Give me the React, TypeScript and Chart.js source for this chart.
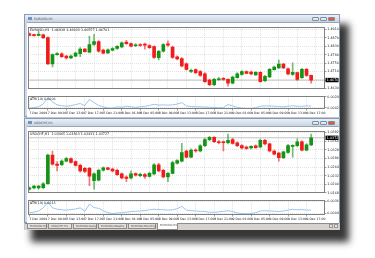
import React, { useEffect, useRef } from "react";
import { Chart, registerables } from "chart.js";
Chart.register(...registerables);

// ---------- data ----------
const timeTicks = [
  "7 Dec 2009", "7 Dec 09:00", "7 Dec 13:00", "7 Dec 17:00", "7 Dec 21:00", "8 Dec 01:00",
  "8 Dec 05:00", "8 Dec 09:00", "8 Dec 13:00", "8 Dec 17:00", "8 Dec 21:00", "9 Dec 01:00",
  "9 Dec 05:00", "9 Dec 09:00", "9 Dec 13:00", "9 Dec 17:00",
];
const barsPerTick = 4;

const eurOpen = [1.48883,1.48840,1.48811,1.48840,1.48710,1.47467,1.47901,1.47944,1.47828,1.47742,1.47828,1.47944,1.48161,1.48016,1.48378,1.48522,1.48117,1.47987,1.48117,1.48190,1.48262,1.48493,1.48421,1.48320,1.48378,1.48378,1.48334,1.48276,1.47756,1.48060,1.48406,1.48262,1.47800,1.47713,1.47467,1.47106,1.47193,1.47106,1.46990,1.46701,1.46485,1.46716,1.46759,1.46730,1.46557,1.46817,1.46961,1.47106,1.47077,1.46947,1.47063,1.46672,1.46846,1.47193,1.47279,1.47453,1.47236,1.46961,1.47048,1.46817,1.47207,1.46918];
const eurHigh = [1.48927,1.48869,1.48984,1.48869,1.48739,1.47944,1.48002,1.47987,1.47872,1.47886,1.48016,1.48233,1.48204,1.48782,1.48854,1.48565,1.48161,1.48175,1.48233,1.48334,1.48508,1.48580,1.48464,1.48421,1.48421,1.48450,1.48378,1.48320,1.48103,1.48421,1.48551,1.48305,1.47843,1.47756,1.47511,1.47221,1.47236,1.47164,1.47048,1.46745,1.46788,1.46831,1.46817,1.46759,1.46889,1.47048,1.47150,1.47135,1.47121,1.47106,1.47092,1.46918,1.47250,1.47366,1.47641,1.47496,1.47279,1.47510,1.47063,1.47250,1.47250,1.46933];
const eurLow = [1.48782,1.48768,1.48782,1.48667,1.47438,1.47323,1.47872,1.47771,1.47684,1.47713,1.47800,1.47800,1.48016,1.47987,1.48334,1.48016,1.47930,1.47944,1.48074,1.48146,1.48219,1.48378,1.48262,1.48276,1.48291,1.48161,1.48190,1.47728,1.47655,1.48016,1.48291,1.47728,1.47655,1.47323,1.47164,1.47048,1.46990,1.46875,1.46586,1.46441,1.46441,1.46687,1.46701,1.46412,1.46514,1.46788,1.46933,1.46990,1.46947,1.46918,1.46600,1.46629,1.46817,1.47164,1.47250,1.47236,1.46947,1.46918,1.46687,1.46774,1.46875,1.46557];
const eurClose = [1.48811,1.48797,1.48854,1.48695,1.47467,1.47901,1.47944,1.47800,1.47742,1.47828,1.47973,1.48161,1.48045,1.48378,1.48522,1.48060,1.47973,1.48132,1.48190,1.48291,1.48464,1.48421,1.48305,1.48363,1.48334,1.48349,1.48233,1.47771,1.48060,1.48378,1.48349,1.47771,1.47698,1.47366,1.47207,1.47164,1.47048,1.46918,1.46629,1.46485,1.46730,1.46759,1.46730,1.46557,1.46846,1.46990,1.47106,1.47019,1.46990,1.47063,1.46629,1.46875,1.47207,1.47308,1.47453,1.47279,1.46990,1.47063,1.46730,1.47207,1.46918,1.46701];
const eurAtr = [0.00016,0.00027,0.00043,0.00098,0.00222,0.00141,0.00081,0.00065,0.00054,0.00065,0.00087,0.00108,0.00065,0.0019,0.00125,0.0007,0.00043,0.00022,0.00016,0.00043,0.00033,0.00054,0.00043,0.00033,0.00043,0.00054,0.0007,0.00092,0.00076,0.00081,0.00076,0.00081,0.00098,0.00125,0.0006,0.00049,0.00043,0.00043,0.00038,0.00033,0.00033,0.00022,0.00027,0.00087,0.0006,0.00033,0.00016,0.00011,0.00011,0.00027,0.00054,0.0006,0.0006,0.00054,0.00049,0.00043,0.00054,0.00065,0.00054,0.00054,0.0006,0.0006];
const eurPriceTicks = [1.4910, 1.4870, 1.4830, 1.4790, 1.4750, 1.4710, 1.4670, 1.4630];
const eurAtrTicks = [0.0024, 0.0002];

const chfOpen = [1.01815,1.01860,1.01860,1.01872,1.02019,1.03089,1.02748,1.02725,1.02862,1.02953,1.02839,1.02702,1.02589,1.02589,1.02133,1.02156,1.02520,1.02611,1.02566,1.02520,1.02384,1.02270,1.02236,1.02395,1.02315,1.02361,1.02293,1.02384,1.02725,1.02520,1.02270,1.02406,1.02782,1.02862,1.03237,1.03010,1.03271,1.03237,1.03431,1.03658,1.03749,1.03579,1.03579,1.03544,1.03658,1.03544,1.03442,1.03385,1.03351,1.03431,1.03385,1.03636,1.03499,1.03237,1.03158,1.02987,1.03180,1.03408,1.03431,1.03579,1.03271,1.03465];
const chfHigh = [1.01906,1.01963,1.01963,1.02065,1.03123,1.03237,1.02839,1.02907,1.02998,1.02987,1.02873,1.02748,1.02623,1.02634,1.02429,1.02566,1.02645,1.02634,1.02600,1.02566,1.02429,1.02315,1.02497,1.02429,1.02418,1.02406,1.02452,1.02771,1.02782,1.02554,1.02441,1.02862,1.02918,1.03522,1.03271,1.03317,1.03317,1.03476,1.03704,1.03783,1.03772,1.03636,1.03613,1.03863,1.03704,1.03579,1.03476,1.03419,1.03442,1.03465,1.03681,1.03670,1.03533,1.03271,1.03191,1.03237,1.03488,1.03465,1.03692,1.03624,1.03510,1.03863];
const chfLow = [1.01781,1.01826,1.01815,1.01826,1.01997,1.02714,1.02497,1.02691,1.02828,1.02782,1.02668,1.02452,1.02429,1.01951,1.01815,1.02122,1.02486,1.02532,1.02463,1.02327,1.02202,1.02099,1.02202,1.02304,1.02270,1.02213,1.02259,1.02350,1.02463,1.02236,1.02099,1.02384,1.02748,1.02828,1.02976,1.02976,1.03191,1.03203,1.03397,1.03624,1.03544,1.03499,1.03237,1.03499,1.03488,1.03397,1.03317,1.03294,1.03317,1.03328,1.03351,1.03465,1.03203,1.03089,1.02862,1.02953,1.03146,1.03010,1.03397,1.03237,1.03237,1.03431];
const chfClose = [1.01872,1.01929,1.01929,1.02019,1.03089,1.02748,1.02702,1.02862,1.02953,1.02816,1.02702,1.02497,1.02475,1.02304,1.02384,1.02520,1.02611,1.02554,1.02497,1.02361,1.02236,1.02213,1.02384,1.02338,1.02372,1.02293,1.02406,1.02725,1.02497,1.02270,1.02406,1.02805,1.02884,1.03180,1.03010,1.03271,1.03237,1.03431,1.03658,1.03749,1.03579,1.03544,1.03544,1.03636,1.03522,1.03431,1.03351,1.03328,1.03408,1.03362,1.03636,1.03499,1.03237,1.03123,1.02987,1.03203,1.03442,1.03431,1.03579,1.03271,1.03465,1.03727];
const chfAtr = [0.0006,0.00075,0.00106,0.00189,0.0034,0.00189,0.00151,0.00136,0.00128,0.00143,0.00158,0.00189,0.00098,0.00287,0.00196,0.00174,0.00113,0.0006,0.00038,0.00053,0.0006,0.00075,0.00091,0.00098,0.00106,0.00113,0.00136,0.00151,0.00143,0.00136,0.00128,0.00136,0.00166,0.00226,0.00128,0.00113,0.00106,0.00098,0.00091,0.00075,0.00068,0.00083,0.00098,0.00113,0.00091,0.00053,0.00038,0.0003,0.00038,0.0006,0.00106,0.00113,0.00106,0.00098,0.00091,0.00106,0.00128,0.00151,0.00136,0.00143,0.00128,0.00128];
const chfPriceTicks = [1.0392, 1.0360, 1.0328, 1.0296, 1.0264, 1.0232, 1.0200, 1.0168];
const chfAtrTicks = [0.0036, 0.0004];

const tabLabels = ["EURUSD,H1", "USDCHF,H1", "EURUSD,Daily", "EURUSD,Weekly", "EURUSD,Monthly", "EURUSD,H1"];

// ---------- style ----------
const FONT = '"DejaVu Sans", sans-serif';
const UP = "#149314";
const DOWN = "#f01c1c";
const UP_WICK = "rgba(20,147,20,0.6)";
const DOWN_WICK = "rgba(240,28,28,0.6)";
const GRID = "#d6d6d6";
const X_MIN = -0.3;
const X_MAX = 64;
const AXIS_W = 14;
const tickIndex = timeTicks.map((_, i) => i * barsPerTick);

function overlay(title: string, last: number | null, digits: number) {
  return {
    id: "overlay",
    afterDraw(chart: any) {
      const { ctx, chartArea: a } = chart;
      ctx.save();
      ctx.strokeStyle = "#808080";
      ctx.lineWidth = 1;
      ctx.strokeRect(Math.round(a.left) + 0.5, Math.round(a.top) + 0.5, Math.round(a.right - a.left) - 1, Math.round(a.bottom - a.top) - 1);
      ctx.fillStyle = "#222";
      ctx.font = `3.3px ${FONT}`;
      ctx.textBaseline = "top";
      ctx.fillText(title, a.left + 2, a.top + 1.8);
      if (last !== null) {
        const y = chart.scales.y.getPixelForValue(last);
        ctx.fillStyle = "#000";
        ctx.fillRect(a.right + 0.5, y - 2.2, 13, 4.4);
        ctx.fillStyle = "#fff";
        ctx.textBaseline = "middle";
        ctx.fillText(last.toFixed(digits), a.right + 1.8, y + 0.2);
      }
      ctx.restore();
    },
  };
}

function yAxis(min: number, max: number, ticks: number[], digits: number) {
  return {
    position: "right",
    min,
    max,
    afterBuildTicks: (s: any) => { s.ticks = ticks.map((v) => ({ value: v })); },
    afterFit: (s: any) => { s.width = AXIS_W; },
    ticks: { font: { size: 3.3, family: FONT }, color: "#222", padding: 0.8, callback: (v: any) => Number(v).toFixed(digits) },
    grid: { color: GRID, lineWidth: 0.7, drawTicks: true, tickLength: 1.5, tickColor: "#777", tickWidth: 0.7 },
    border: { display: false, dash: [1, 1] },
  };
}

type CandleProps = {
  left: number; top: number; width: number; height: number;
  opens: number[]; highs: number[]; lows: number[]; closes: number[];
  ticks: number[]; yMin: number; yMax: number; name: string;
};

function CandlePanel(p: CandleProps) {
  const ref = useRef<HTMLCanvasElement>(null);
  useEffect(() => {
    const idx = p.opens.map((_, i) => i);
    const up = idx.map((i) => p.closes[i] >= p.opens[i]);
    const last = p.closes[p.closes.length - 1];
    const li = p.closes.length - 1;
    const title = `${p.name}  ${p.opens[li].toFixed(5)} ${p.highs[li].toFixed(5)} ${p.lows[li].toFixed(5)} ${last.toFixed(5)}`;
    const chart = new Chart(ref.current as HTMLCanvasElement, {
      type: "bar",
      data: {
        datasets: [
          {
            type: "line",
            data: [{ x: X_MIN, y: last }, { x: X_MAX, y: last }],
            borderColor: "#a8a8a8",
            borderWidth: 0.7,
            pointRadius: 0,
            order: 3,
          } as any,
          {
            data: idx.map((i) => ({ x: i, y: [p.lows[i], p.highs[i]] })),
            backgroundColor: up.map((u) => (u ? UP_WICK : DOWN_WICK)),
            barThickness: 1,
            grouped: false,
            order: 2,
          } as any,
          {
            data: idx.map((i) => ({ x: i, y: [Math.min(p.opens[i], p.closes[i]), Math.max(p.opens[i], p.closes[i])] })),
            backgroundColor: up.map((u) => (u ? UP : DOWN)),
            barThickness: 3,
            minBarLength: 1,
            grouped: false,
            order: 1,
          } as any,
        ],
      },
      options: {
        animation: false,
        responsive: false,
        devicePixelRatio: 1,
        events: [],
        layout: { padding: 0, autoPadding: false },
        plugins: { legend: { display: false }, tooltip: { enabled: false } },
        scales: {
          x: {
            type: "linear",
            min: X_MIN,
            max: X_MAX,
            offset: false,
            afterBuildTicks: (s: any) => { s.ticks = tickIndex.map((v) => ({ value: v })); },
            ticks: { display: false },
            grid: { color: GRID, lineWidth: 0.7, drawTicks: false },
            border: { display: false, dash: [1, 1] },
          },
          y: yAxis(p.yMin, p.yMax, p.ticks, 5),
        },
      } as any,
      plugins: [overlay(title, last, 5)],
    });
    return () => chart.destroy();
  }, []);
  return <canvas ref={ref} width={p.width} height={p.height} style={{ position: "absolute", left: p.left, top: p.top, width: p.width, height: p.height }} />;
}

type AtrProps = { left: number; top: number; width: number; height: number; values: number[]; max: number; ticks: number[] };

function AtrPanel(p: AtrProps) {
  const ref = useRef<HTMLCanvasElement>(null);
  useEffect(() => {
    const idx = p.values.map((_, i) => i);
    const lastVal = p.values[p.values.length - 1];
    const chart = new Chart(ref.current as HTMLCanvasElement, {
      type: "line",
      data: {
        datasets: [{
          data: idx.map((i) => ({ x: i, y: p.values[i] })),
          borderColor: "#8ec0f0",
          borderWidth: 0.9,
          pointRadius: 0,
          tension: 0,
        }],
      },
      options: {
        animation: false,
        responsive: false,
        devicePixelRatio: 1,
        events: [],
        layout: { padding: 0, autoPadding: false },
        plugins: { legend: { display: false }, tooltip: { enabled: false } },
        scales: {
          x: {
            type: "linear",
            min: X_MIN,
            max: X_MAX,
            offset: false,
            afterBuildTicks: (s: any) => { s.ticks = tickIndex.map((v) => ({ value: v })); },
            afterFit: (s: any) => { s.height = 6; },
            ticks: {
              font: { size: 3.1, family: FONT },
              color: "#222",
              align: "start",
              padding: 0.6,
              autoSkip: false,
              maxRotation: 0,
              minRotation: 0,
              callback: (v: any) => timeTicks[tickIndex.indexOf(Number(v))] ?? "",
            },
            grid: { color: GRID, lineWidth: 0.7, drawTicks: true, tickLength: 1.5, tickColor: "#777", tickWidth: 0.7 },
            border: { display: false, dash: [1, 1] },
          },
          y: yAxis(0, p.max, p.ticks, 4),
        },
      } as any,
      plugins: [overlay(`ATR(14) ${lastVal.toFixed(4)}`, null, 4)],
    });
    return () => chart.destroy();
  }, []);
  return <canvas ref={ref} width={p.width} height={p.height} style={{ position: "absolute", left: p.left, top: p.top, width: p.width, height: p.height }} />;
}

function Tiny({ left, top, text, color = "#333", size = 3.4 }: { left: number; top: number; text: string; color?: string; size?: number }) {
  return (
    <div style={{
      position: "absolute", left, top, fontSize: size * 2, lineHeight: `${size * 2}px`, transform: "scale(0.5)",
      transformOrigin: "0 0", whiteSpace: "nowrap", fontFamily: FONT, color,
    }}>{text}</div>
  );
}

function WindowFrame({ top, height, title }: { top: number; height: number; title: string }) {
  const btn = (left: number, bg: string) => (
    <div style={{ position: "absolute", left, top: 1.5, width: 7, height: 4.5, background: bg, border: "0.5px solid #7d8da3", borderRadius: 1, boxSizing: "border-box" }} />
  );
  return (
    <div style={{ position: "absolute", left: 24, top, width: 316, height, boxSizing: "border-box", border: "1px solid #8a9ab0", background: "#cfd8e4" }}>
      <div style={{ position: "absolute", left: 0, top: 0, width: 314, height: 7, background: "linear-gradient(#eaf0f7,#c9d4e1)" }}>
        <div style={{ position: "absolute", left: 2.5, top: 2, width: 4, height: 3, background: "#6f93c4" }} />
        <Tiny left={9} top={1.6} text={title} color="#3a4a60" size={3.2} />
        {btn(287, "#e4eaf2")}
        {btn(295, "#e4eaf2")}
        {btn(303, "#dc5a36")}
      </div>
      <div style={{ position: "absolute", left: 1.5, top: 7, width: 312, height: height - 9, background: "#fff", borderTop: "0.5px solid #9aa6b6" }} />
    </div>
  );
}

function TabBar() {
  const widths = [20, 24, 24, 29, 28, 21];
  let x = 27;
  const items = tabLabels.map((label, i) => {
    const left = x;
    x += widths[i] + 1;
    const active = i === tabLabels.length - 1;
    return (
      <div key={i} style={{
        position: "absolute", left, top: active ? 223 : 223.5, width: widths[i], height: active ? 6.5 : 5.5,
        boxSizing: "border-box", border: "0.5px solid #8c8c8c", borderTop: "none",
        background: active ? "#ffffff" : "#e6e3de",
      }}>
        <Tiny left={2} top={1} text={label} color="#444" size={2.9} />
      </div>
    );
  });
  return (
    <div>
      <div style={{ position: "absolute", left: 25, top: 223, width: 314, height: 7, background: "#d6d3ce", borderTop: "0.5px solid #8c8c8c", boxSizing: "border-box" }} />
      {items}
      <div style={{ position: "absolute", left: 329, top: 224, width: 4, height: 4, background: "#e6e3de", border: "0.5px solid #999", boxSizing: "border-box" }} />
      <div style={{ position: "absolute", left: 334, top: 224, width: 4, height: 4, background: "#e6e3de", border: "0.5px solid #999", boxSizing: "border-box" }} />
    </div>
  );
}

export default function App() {
  return (
    <div style={{ position: "fixed", left: 0, top: 0, width: 375, height: 258, background: "#fff", overflow: "hidden" }}>
      <div style={{ position: "absolute", left: 24, top: 14, width: 316, height: 216, background: "#bcc8d7", boxShadow: "8px 11px 7px 1px rgba(20,20,20,0.85)" }} />
      <WindowFrame top={14} height={103} title="EURUSD,H1" />
      <WindowFrame top={118} height={105} title="USDCHF,H1" />
      <TabBar />
      <CandlePanel left={28} top={24} width={311} height={68} opens={eurOpen} highs={eurHigh} lows={eurLow} closes={eurClose}
        ticks={eurPriceTicks} yMin={1.46268} yMax={1.49216} name="EURUSD,H1" />
      <AtrPanel left={28} top={93} width={311} height={22} values={eurAtr} max={0.0026} ticks={eurAtrTicks} />
      <CandlePanel left={28} top={128} width={311} height={68} opens={chfOpen} highs={chfHigh} lows={chfLow} closes={chfClose}
        ticks={chfPriceTicks} yMin={1.01667} yMax={1.03988} name="USDCHF,H1" />
      <AtrPanel left={28} top={197} width={311} height={24} values={chfAtr} max={0.0040} ticks={chfAtrTicks} />
    </div>
  );
}
